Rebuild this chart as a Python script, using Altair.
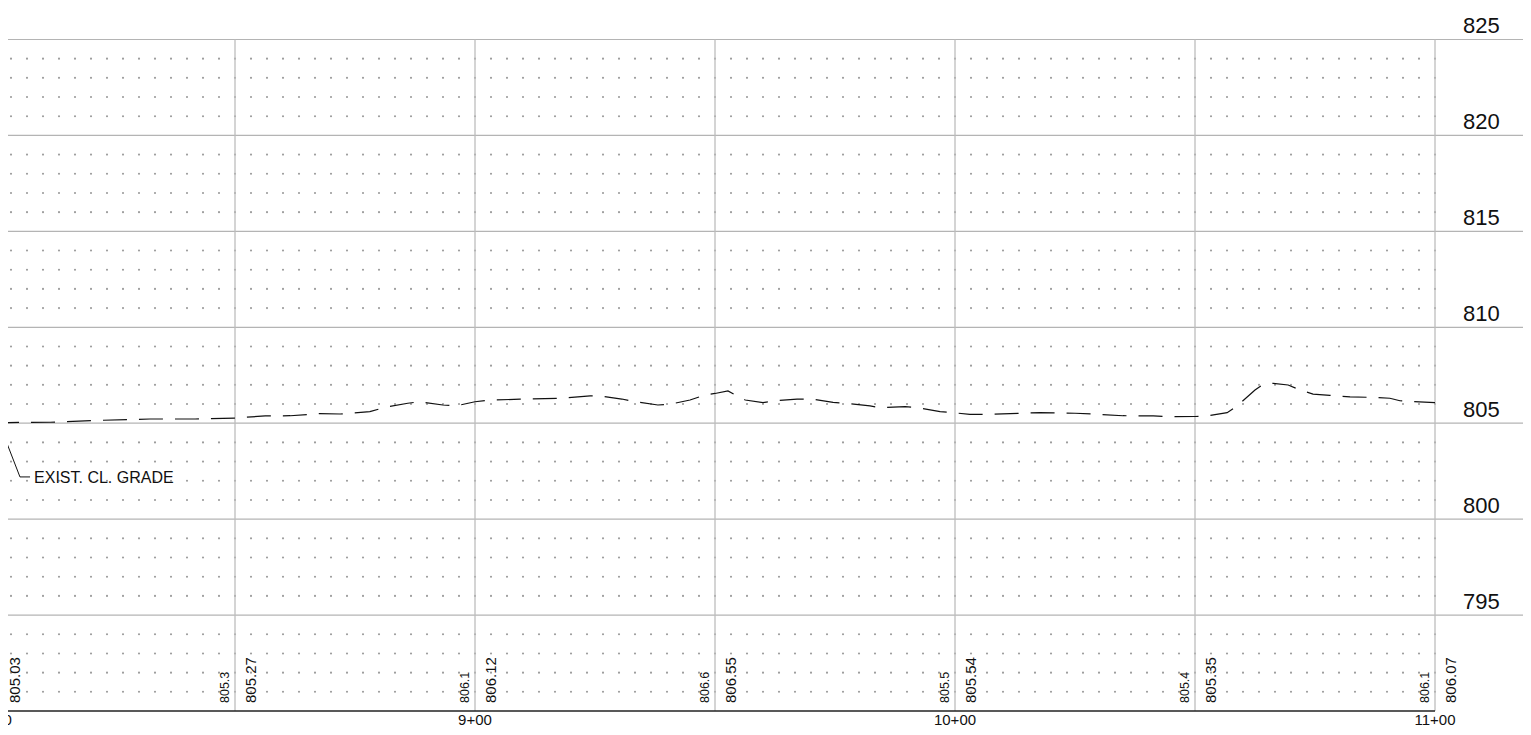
import altair as alt
import pandas as pd

# ---------------- data ----------------
prof_sta = [800, 811.5, 821.9, 832.3, 841.7, 850, 856.3, 861.5, 867.7, 871.9,
            878.1, 881.3, 886.0, 888.5, 893.3, 896.0, 900, 903.1, 909.4, 917.7,
            924.0, 926.0, 930.6, 933.3, 938.1, 940.6, 944.8, 947.9, 950, 952.7,
            955.2, 956.3, 960.0, 962.3, 967.1, 970.4, 974.6, 977.1, 982.3, 984.4,
            989.6, 992.1, 996.9, 1000, 1003.1, 1007.3, 1013.5, 1017.7, 1025.0, 1030.2,
            1035.0, 1041.3, 1044.2, 1050, 1052.1, 1056.7, 1058.8, 1062.5, 1064.0, 1066.3,
            1069.4, 1071.9, 1074.6, 1078.1, 1082.3, 1086.5, 1090.6, 1092.7, 1100]
prof_elev = [805.03, 805.05, 805.15, 805.22, 805.22, 805.27, 805.38, 805.39, 805.50, 805.48,
             805.60, 805.83, 806.04, 806.12, 805.95, 805.90, 806.12, 806.21, 806.25, 806.30,
             806.42, 806.42, 806.26, 806.12, 805.95, 805.99, 806.21, 806.47, 806.55, 806.68,
             806.35, 806.21, 806.07, 806.17, 806.25, 806.25, 806.09, 806.04, 805.90, 805.81,
             805.86, 805.81, 805.60, 805.54, 805.46, 805.46, 805.52, 805.55, 805.52, 805.46,
             805.39, 805.38, 805.34, 805.35, 805.36, 805.55, 805.90, 806.73, 806.99, 807.08,
             806.99, 806.73, 806.52, 806.45, 806.37, 806.35, 806.30, 806.17, 806.07]

grid_elev = [795, 800, 805, 810, 815, 820, 825]
elev_labels = ["795", "800", "805", "810", "815", "820", "825"]
grid_sta = [850, 900, 950, 1000, 1050, 1100]
sta_ticks = [800, 900, 1000, 1100]
sta_tick_labels = ["8+00", "9+00", "10+00", "11+00"]
first_sta = [800]
first_label = ["805.03"]
rt_sta = [850, 900, 950, 1000, 1050, 1100]
rt_labels = ["805.27", "806.12", "806.55", "805.54", "805.35", "806.07"]
lt_sta = [850, 900, 950, 1000, 1050, 1100]
lt_labels = ["805.3", "806.1", "806.6", "805.5", "805.4", "806.1"]
dot_sta = [800 + i * 10 / 3 for i in range(91)]
dot_elev = [e for e in range(791, 825) if e % 5 != 0]
callout_sta = [801.25, 805.2, 807.3]
callout_elev = [804.75, 802.2, 802.2]
callout_text = "EXIST. CL. GRADE"

X_DOM = [802.708, 1118.333]
Y_DOM = [789.166, 826.641]
FONT = "Liberation Sans"

xs = alt.Scale(domain=X_DOM, nice=False, zero=False)
ys = alt.Scale(domain=Y_DOM, nice=False, zero=False)


def X(field):
    return alt.X(field, scale=xs, axis=None)


def Y(field):
    return alt.Y(field, scale=ys, axis=None)


def XD(v):
    return alt.XDatum(v, scale=xs, axis=None)


def YD(v):
    return alt.YDatum(v, scale=ys, axis=None)


dots_df = pd.DataFrame([(s, e) for e in dot_elev for s in dot_sta], columns=["s", "e"])
prof_df = pd.DataFrame({"s": prof_sta, "e": prof_elev})
hgrid_df = pd.DataFrame({"e": grid_elev, "t": elev_labels})
vgrid_df = pd.DataFrame({"s": grid_sta})
tick_df = pd.DataFrame({"s": sta_ticks, "t": sta_tick_labels})
first_df = pd.DataFrame({"s": first_sta, "t": first_label})
rt_df = pd.DataFrame({"s": rt_sta, "t": rt_labels})
lt_df = pd.DataFrame({"s": lt_sta, "t": lt_labels})
call_df = pd.DataFrame({"s": callout_sta, "e": callout_elev, "o": [0, 1, 2]})
call_txt_df = pd.DataFrame({"s": [callout_sta[-1]], "e": [callout_elev[-1]], "t": [callout_text]})
tip_df = pd.DataFrame({"s": [callout_sta[0]], "e": [callout_elev[0]]})

dots = alt.Chart(dots_df).mark_circle(size=4.5, color="#9c9c9c", opacity=1).encode(
    x=X("s:Q"), y=Y("e:Q"))

hgrid = alt.Chart(hgrid_df).mark_rule(color="#b4b4b4", strokeWidth=1.2).encode(
    x=XD(X_DOM[0]), x2=alt.X2Datum(X_DOM[1]), y=Y("e:Q"))

vgrid = alt.Chart(vgrid_df).mark_rule(color="#bdbdbd", strokeWidth=1.3).encode(
    x=X("s:Q"), y=YD(790), y2=alt.Y2Datum(825))

base = alt.Chart(pd.DataFrame({"e": [790]})).mark_rule(color="#222222", strokeWidth=1.5).encode(
    x=XD(X_DOM[0]), x2=alt.X2Datum(1100), y=Y("e:Q"))

profile = alt.Chart(prof_df).mark_line(color="#111111", strokeWidth=1.2,
                                       strokeDash=[24, 12]).encode(
    x=X("s:Q"), y=Y("e:Q"))

elev_txt = alt.Chart(hgrid_df).mark_text(align="left", baseline="alphabetic", dx=28, dy=-6,
                                         fontSize=22, font=FONT, color="#111111").encode(
    x=XD(1100), y=Y("e:Q"), text="t:N")

sta_txt = alt.Chart(tick_df).mark_text(align="center", baseline="alphabetic", dy=14,
                                       fontSize=15, font=FONT, color="#111111").encode(
    x=X("s:Q"), y=YD(790), text="t:N")

first_txt = alt.Chart(first_df).mark_text(angle=270, align="left", baseline="alphabetic",
                                          dx=8, dy=25, fontSize=15, font=FONT,
                                          color="#111111").encode(
    x=X("s:Q"), y=YD(790), text="t:N")

rt_txt = alt.Chart(rt_df).mark_text(angle=270, align="left", baseline="alphabetic",
                                    dx=8, dy=21, fontSize=15, font=FONT,
                                    color="#111111").encode(
    x=X("s:Q"), y=YD(790), text="t:N")

lt_txt = alt.Chart(lt_df).mark_text(angle=270, align="left", baseline="alphabetic",
                                    dx=8, dy=-6, fontSize=12.5, font=FONT,
                                    color="#111111").encode(
    x=X("s:Q"), y=YD(790), text="t:N")

leader = alt.Chart(call_df).mark_line(color="#111111", strokeWidth=1).encode(
    x=X("s:Q"), y=Y("e:Q"), order="o:Q")

tip = alt.Chart(tip_df).mark_point(shape="triangle-up", angle=339, size=30, filled=True,
                                   color="#111111", opacity=1).encode(
    x=X("s:Q"), y=Y("e:Q"))

call_txt = alt.Chart(call_txt_df).mark_text(align="left", baseline="middle", dx=4, dy=1,
                                            fontSize=16, font=FONT, color="#111111").encode(
    x=X("s:Q"), y=Y("e:Q"), text="t:N")

chart = alt.layer(
    dots, hgrid, vgrid, base, profile, elev_txt, sta_txt, first_txt, rt_txt, lt_txt,
    leader, tip, call_txt
).properties(
    width=1515, height=719,
    autosize=alt.AutoSizeParams(type="none"),
    padding=0,
    background="white",
).configure_view(stroke=None)

chart.save("out.html", embed_options={"renderer": "svg", "actions": False})
